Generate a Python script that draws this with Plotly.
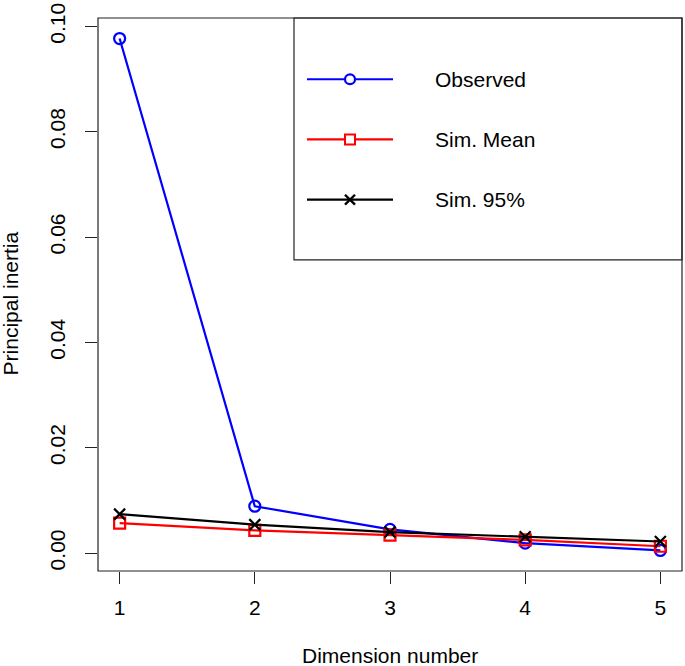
import plotly.graph_objects as go

# ---- data ----
dimensions = [1, 2, 3, 4, 5]
observed = [0.0977, 0.0089, 0.0045, 0.0019, 0.0005]
sim_mean = [0.0057, 0.0043, 0.0034, 0.0025, 0.0013]
sim_95 = [0.0074, 0.0054, 0.0040, 0.0031, 0.0022]
series_names = ["Observed", "Sim. Mean", "Sim. 95%"]
y_ticks = [0.0, 0.02, 0.04, 0.06, 0.08, 0.10]

# ---- layout constants (pixels) ----
W, H = 685, 666
L, R, T, B = 98, 3, 11, 95
PW, PH = W - L - R, H - T - B


def px(x):
    return (x - L) / PW


def py(y):
    return (H - B - y) / PH


FONT = "Liberation Sans, Arial, sans-serif"
colors = ["#0000FF", "#FF0000", "#000000"]
symbols = ["circle-open", "square-open", "x-thin-open"]
values = [observed, sim_mean, sim_95]

fig = go.Figure()
for name, vals, col, sym in zip(series_names, values, colors, symbols):
    fig.add_trace(go.Scatter(
        x=dimensions, y=vals, name=name, mode="lines+markers",
        line=dict(color=col, width=2.2),
        marker=dict(symbol=sym, size=11, color=col, line=dict(color=col, width=2.2)),
        showlegend=False,
    ))

shapes = [dict(type="rect", xref="paper", yref="paper", x0=0, y0=0, x1=1, y1=1,
               line=dict(color="#222222", width=1.2))]
# legend box
shapes.append(dict(type="rect", xref="paper", yref="paper",
                   x0=px(294), y0=py(256), x1=1, y1=1,
                   line=dict(color="#222222", width=1.2)))
annotations = []
leg_y = [73, 134, 195]
for i, (name, col) in enumerate(zip(series_names, colors)):
    yy = py(leg_y[i])
    shapes.append(dict(type="line", xref="paper", yref="paper",
                       x0=px(307), x1=px(393), y0=yy, y1=yy,
                       line=dict(color=col, width=2.2)))
    annotations.append(dict(text=name, xref="paper", yref="paper", x=px(433), y=yy,
                            xanchor="left", yanchor="middle", showarrow=False,
                            font=dict(family=FONT, size=21, color="black")))
# legend glyphs
r = 5
cx = 350
cy = leg_y[0]
shapes.append(dict(type="circle", xref="paper", yref="paper",
                   x0=px(cx - r), x1=px(cx + r), y0=py(cy + r), y1=py(cy - r),
                   line=dict(color=colors[0], width=2.2), fillcolor="white"))
cy = leg_y[1]
shapes.append(dict(type="rect", xref="paper", yref="paper",
                   x0=px(cx - r), x1=px(cx + r), y0=py(cy + r), y1=py(cy - r),
                   line=dict(color=colors[1], width=2.0), fillcolor="white"))
cy = leg_y[2]
for d in (1, -1):
    shapes.append(dict(type="line", xref="paper", yref="paper",
                       x0=px(cx - r), x1=px(cx + r), y0=py(cy - d * r), y1=py(cy + d * r),
                       line=dict(color=colors[2], width=2.4)))

annotations.append(dict(text="Dimension number", xref="paper", yref="paper",
                        x=0.5, y=py(657), xanchor="center", yanchor="middle",
                        showarrow=False, font=dict(family=FONT, size=21, color="black")))
annotations.append(dict(text="Principal inertia", xref="paper", yref="paper",
                        x=px(10), y=py(300), xanchor="center", yanchor="middle",
                        textangle=-90, showarrow=False,
                        font=dict(family=FONT, size=21, color="black")))

fig.update_layout(
    width=W, height=H,
    margin=dict(l=L, r=R, t=T, b=B, pad=0),
    paper_bgcolor="white", plot_bgcolor="white",
    font=dict(family=FONT, size=21, color="black"),
    shapes=shapes, annotations=annotations,
    showlegend=False,
    xaxis=dict(range=[0.84, 5.16], tickvals=dimensions, ticks="outside", ticklen=12,
               tickwidth=1.2, tickcolor="#222222", showgrid=False, zeroline=False,
               showline=False, ticklabelstandoff=6, ticklabeloverflow="allow",
               tickfont=dict(family=FONT, size=21, color="black")),
    yaxis=dict(range=[-0.0034, 0.1016], tickvals=y_ticks, tickformat=".2f",
               ticks="outside", ticklen=12, tickwidth=1.2, tickcolor="#222222",
               showgrid=False, zeroline=False, showline=False, tickangle=-90,
               ticklabelstandoff=12, ticklabeloverflow="allow",
               tickfont=dict(family=FONT, size=21, color="black")),
)

fig.write_html(
    "out.html",
    config={"displayModeBar": False},
    post_script="document.body.style.margin='0';document.body.style.overflow='hidden';",
)
